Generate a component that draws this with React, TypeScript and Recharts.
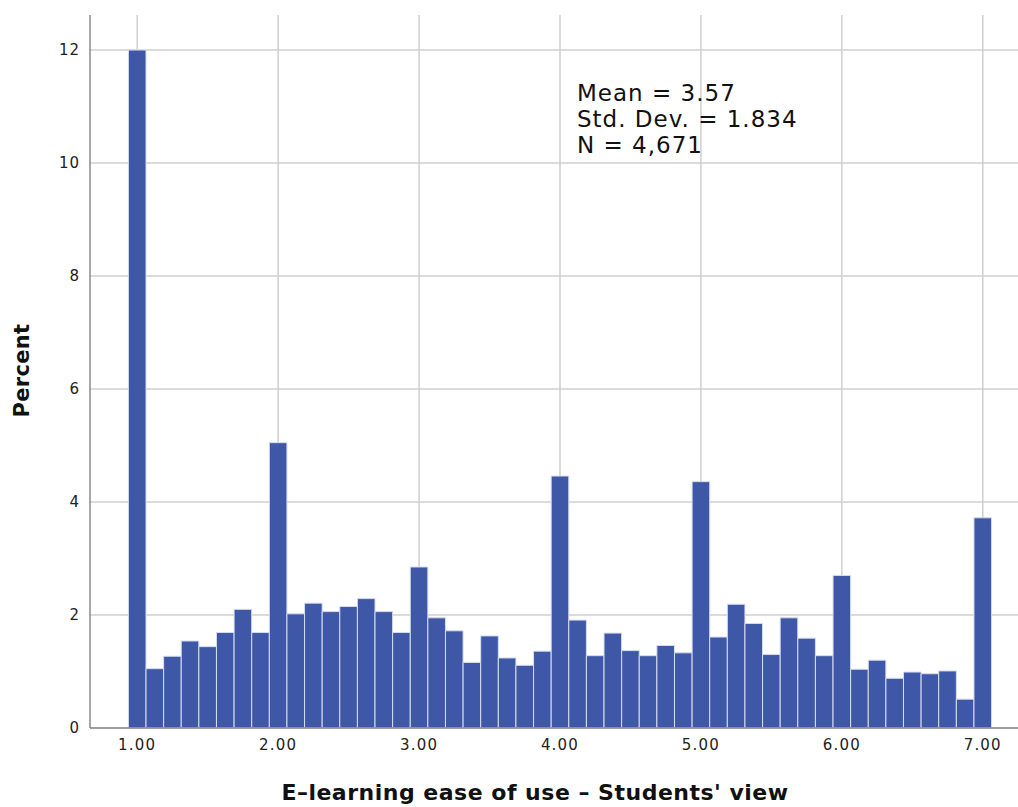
import React from 'react';
import { BarChart, Bar, XAxis, YAxis, CartesianGrid, Label } from 'recharts';

const bins: number[] = [
  1.0, 1.125, 1.25, 1.375, 1.5, 1.625, 1.75, 1.875,
  2.0, 2.125, 2.25, 2.375, 2.5, 2.625, 2.75, 2.875,
  3.0, 3.125, 3.25, 3.375, 3.5, 3.625, 3.75, 3.875,
  4.0, 4.125, 4.25, 4.375, 4.5, 4.625, 4.75, 4.875,
  5.0, 5.125, 5.25, 5.375, 5.5, 5.625, 5.75, 5.875,
  6.0, 6.125, 6.25, 6.375, 6.5, 6.625, 6.75, 6.875,
  7.0,
];

const percent: number[] = [
  12.0, 1.05, 1.27, 1.54, 1.44, 1.69, 2.10, 1.69,
  5.05, 2.02, 2.21, 2.06, 2.15, 2.29, 2.06, 1.69,
  2.85, 1.95, 1.72, 1.16, 1.63, 1.24, 1.11, 1.36,
  4.46, 1.91, 1.28, 1.68, 1.37, 1.28, 1.46, 1.33,
  4.36, 1.61, 2.19, 1.85, 1.30, 1.95, 1.59, 1.28,
  2.70, 1.04, 1.20, 0.88, 0.99, 0.96, 1.01, 0.51,
  3.72,
];

const xTicks: number[] = [1, 2, 3, 4, 5, 6, 7];
const yTicks: number[] = [0, 2, 4, 6, 8, 10, 12];
const statsLines: string[] = ['Mean = 3.57', 'Std. Dev. = 1.834', 'N = 4,671'];
const xTitle = "E\u2013learning ease of use \u2013 Students' view";
const yTitle = 'Percent';

const data = bins.map((b, i) => ({ bin: b, pct: percent[i] }));

const FONT = '"DejaVu Sans", "Lucida Grande", sans-serif';

const YTitle = (props: any) => {
  const vb = props.viewBox || { x: 0, y: 0, width: 0, height: 0 };
  const cy = vb.y + vb.height / 2 - 1;
  const cx = 22;
  return (
    <text
      x={cx}
      y={cy}
      transform={`rotate(-90, ${cx}, ${cy})`}
      textAnchor="middle"
      dominantBaseline="central"
      style={{ fontFamily: FONT, fontWeight: 'bold', fontSize: 21, fill: '#111', letterSpacing: '0.3px' }}
    >
      {yTitle}
    </text>
  );
};

export default function App() {
  return (
    <div style={{ position: 'absolute', left: 0, top: 0, width: 1018, height: 807, background: '#fff' }}>
      <BarChart
        width={1018}
        height={807}
        data={data}
        margin={{ top: 15, right: 0, bottom: 0, left: 0 }}
        barCategoryGap={0}
      >
        <CartesianGrid stroke="#cfcfcf" strokeWidth={1.5} verticalValues={xTicks} horizontalValues={yTicks} />
        <XAxis
          dataKey="bin"
          type="number"
          domain={[0.665, 7.25]}
          ticks={xTicks}
          tickFormatter={(v: number) => v.toFixed(2)}
          height={79}
          tickLine={false}
          tickSize={0}
          tickMargin={11}
          axisLine={{ stroke: '#8a8a8a', strokeWidth: 1.5 }}
          tick={{ fontFamily: FONT, fontSize: 15, fill: '#222', letterSpacing: '1.2px' }}
          interval={0}
        >
          <Label
            value={xTitle}
            position="insideBottom"
            offset={7}
            dx={-19}
            style={{ fontFamily: FONT, fontWeight: 'bold', fontSize: 22, fill: '#111', letterSpacing: '0.5px' }}
          />
        </XAxis>
        <YAxis
          type="number"
          domain={[0, 12.62]}
          ticks={yTicks}
          width={90}
          tickLine={false}
          tickSize={0}
          tickMargin={10}
          axisLine={{ stroke: '#8a8a8a', strokeWidth: 1.5 }}
          tick={{ fontFamily: FONT, fontSize: 15, fill: '#222', letterSpacing: '1px' }}
          allowDataOverflow
        >
          <Label content={<YTitle />} />
        </YAxis>
        <Bar
          dataKey="pct"
          fill="#3e58a7"
          stroke="#d6dcef"
          strokeWidth={1}
          barSize={17.6}
          isAnimationActive={false}
        />
      </BarChart>
      <div
        style={{
          position: 'absolute',
          left: 577,
          top: 80,
          fontFamily: FONT,
          fontSize: 23,
          lineHeight: '26px',
          letterSpacing: '1px',
          color: '#111',
          whiteSpace: 'pre',
        }}
      >
        {statsLines.map((s) => (
          <div key={s}>{s}</div>
        ))}
      </div>
    </div>
  );
}
